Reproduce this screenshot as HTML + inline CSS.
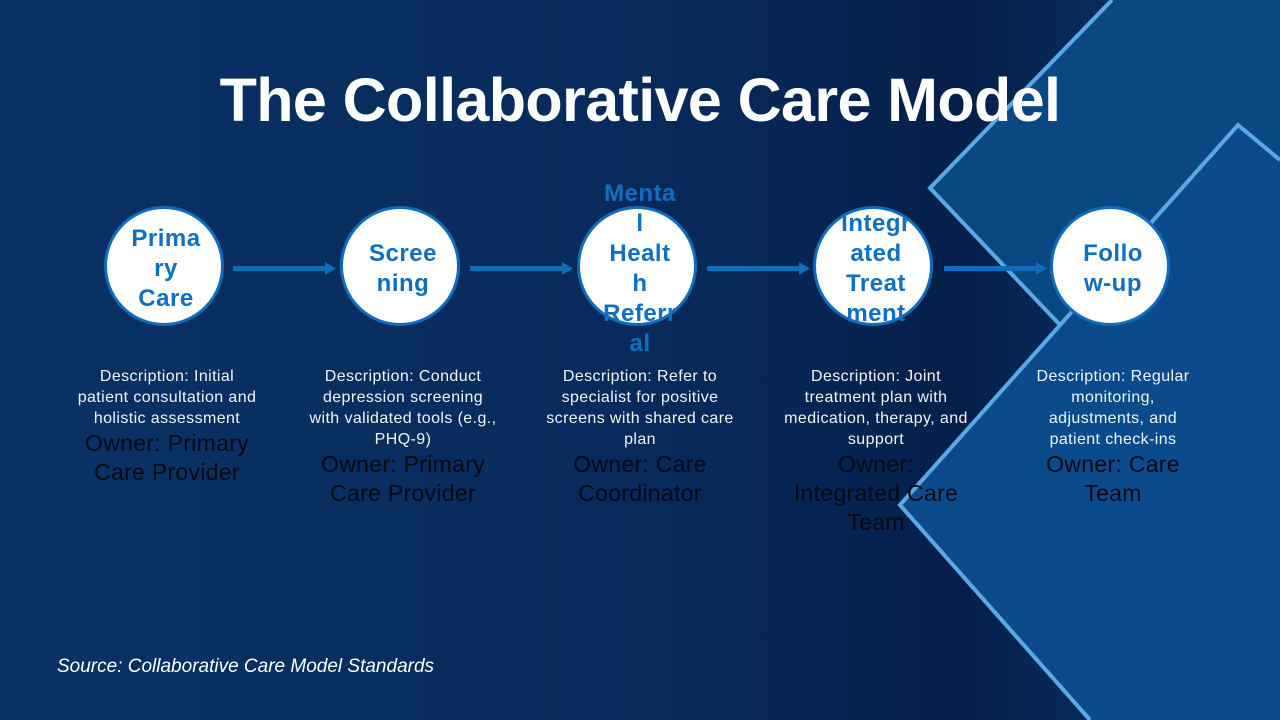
<!DOCTYPE html>
<html><head><meta charset="utf-8"><style>
body{margin:0;width:1280px;height:720px;overflow:hidden;position:relative;font-family:"Liberation Sans",sans-serif;background:linear-gradient(90deg,#0a3265 0%,#07295a 55%,#061f4a 75%,#0a3a70 100%)}
svg.bg{position:absolute;left:0;top:0}
h1{position:absolute;top:62px;left:0;width:1280px;text-align:center;margin:0;color:#fff;font-size:61px;font-weight:bold;letter-spacing:-0.6px;line-height:76px}
.c{position:absolute;width:120px;height:120px;border-radius:50%;background:#fff;border:3px solid #0e6cbc;box-sizing:border-box;}
.t{position:absolute;width:120px;height:120px;display:flex;align-items:center;justify-content:center;text-align:center;color:#0e70c0;font-weight:bold;font-size:24px;line-height:30px;letter-spacing:0.5px}
.d{position:absolute;top:366px;width:260px;text-align:center;color:#f2f4f8;font-size:16px;line-height:21px;letter-spacing:0.4px;white-space:nowrap}
.o{color:#06080f;font-size:23px;line-height:29px;letter-spacing:0.3px}
.src{position:absolute;left:57px;top:656px;color:#fff;font-style:italic;font-size:19px}
</style></head><body>
<svg class="bg" width="1280" height="720">
<polygon points="930,188 1112,0 1280,0 1280,720 1090,720 900,505 1060,325" fill="#0a4884"/>
<polygon points="1238,125 1280,160 1280,720 1090,720 900,505" fill="#0b4b8c"/>
<polyline points="1112,0 930,188 1060,325" fill="none" stroke="#5aa9e6" stroke-width="4"/>
<polyline points="1280,160 1238,125 900,505 1090,720" fill="none" stroke="#5aa9e6" stroke-width="4"/>
<g fill="#0e6cbc" stroke="none">
<rect x="233" y="266" width="94" height="5"/><polygon points="325,262 336,268.5 325,275"/>
<rect x="470" y="266" width="94" height="5"/><polygon points="562,262 573,268.5 562,275"/>
<rect x="707" y="266" width="94" height="5"/><polygon points="799,262 810,268.5 799,275"/>
<rect x="944" y="266" width="94" height="5"/><polygon points="1036,262 1047,268.5 1036,275"/>
</g>
</svg>
<h1>The Collaborative Care Model</h1>
<div class="c" style="left:104px;top:206px"></div><div class="t" style="left:106px;top:209px">Prima<br>ry<br>Care</div>
<div class="c" style="left:340px;top:206px"></div><div class="t" style="left:343px;top:209px">Scree<br>ning</div>
<div class="c" style="left:577px;top:206px"></div><div class="t" style="left:580px;top:209px">Menta<br>l<br>Healt<br>h<br>Referr<br>al</div>
<div class="c" style="left:813px;top:206px"></div><div class="t" style="left:816px;top:209px">Integr<br>ated<br>Treat<br>ment</div>
<div class="c" style="left:1050px;top:206px"></div><div class="t" style="left:1053px;top:209px">Follo<br>w-up</div>
<div class="d" style="left:37px">Description: Initial<br>patient consultation and<br>holistic assessment<div class="o">Owner: Primary<br>Care Provider</div></div>
<div class="d" style="left:273px">Description: Conduct<br>depression screening<br>with validated tools (e.g.,<br>PHQ-9)<div class="o">Owner: Primary<br>Care Provider</div></div>
<div class="d" style="left:510px">Description: Refer to<br>specialist for positive<br>screens with shared care<br>plan<div class="o">Owner: Care<br>Coordinator</div></div>
<div class="d" style="left:746px">Description: Joint<br>treatment plan with<br>medication, therapy, and<br>support<div class="o">Owner:<br>Integrated Care<br>Team</div></div>
<div class="d" style="left:983px">Description: Regular<br>monitoring,<br>adjustments, and<br>patient check-ins<div class="o">Owner: Care<br>Team</div></div>
<div class="src">Source: Collaborative Care Model Standards</div>
</body></html>
